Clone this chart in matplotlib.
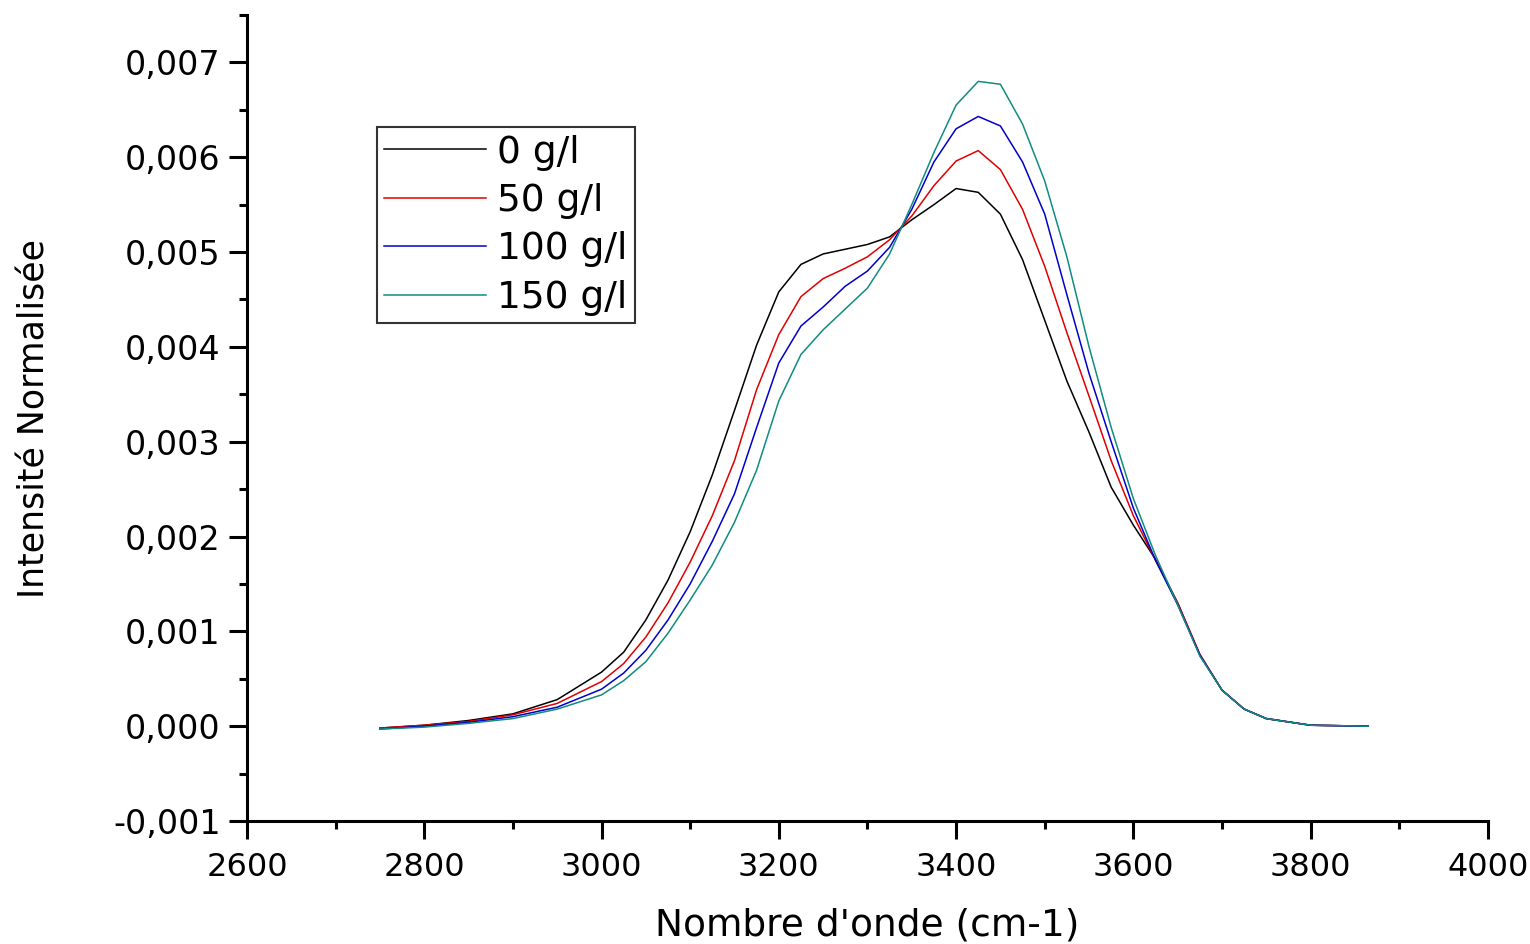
import numpy as np
import matplotlib
matplotlib.use('Agg')
import matplotlib.pyplot as plt
from matplotlib.ticker import MultipleLocator, FuncFormatter

plt.rcParams['font.family'] = ['DejaVu Sans']

# wavenumber (cm-1)
wavenumber = [2750, 2800, 2850, 2900, 2950, 3000, 3025, 3050, 3075, 3100,
              3125, 3150, 3175, 3200, 3225, 3250, 3275, 3300, 3325, 3350,
              3375, 3400, 3425, 3450, 3475, 3500, 3525, 3550, 3575, 3600,
              3625, 3650, 3675, 3700, 3725, 3750, 3800, 3865]

# normalised intensity, in units of 1e-3
int_0 = [-0.02, 0.01, 0.06, 0.13, 0.28, 0.57, 0.78, 1.12, 1.54, 2.05,
         2.65, 3.33, 4.02, 4.58, 4.87, 4.98, 5.03, 5.08, 5.16, 5.34,
         5.50, 5.67, 5.63, 5.40, 4.92, 4.28, 3.64, 3.10, 2.52, 2.12,
         1.76, 1.30, 0.75, 0.38, 0.18, 0.08, 0.01, 0.00]
int_50 = [-0.02, 0.01, 0.05, 0.12, 0.24, 0.47, 0.66, 0.94, 1.30, 1.73,
          2.22, 2.80, 3.55, 4.13, 4.53, 4.72, 4.83, 4.95, 5.13, 5.38,
          5.70, 5.96, 6.07, 5.87, 5.45, 4.85, 4.15, 3.48, 2.80, 2.22,
          1.75, 1.30, 0.76, 0.38, 0.18, 0.08, 0.01, 0.00]
int_100 = [-0.03, 0.00, 0.04, 0.10, 0.20, 0.39, 0.56, 0.80, 1.12, 1.50,
           1.95, 2.45, 3.15, 3.83, 4.22, 4.42, 4.64, 4.80, 5.05, 5.45,
           5.95, 6.30, 6.43, 6.33, 5.95, 5.40, 4.55, 3.72, 3.00, 2.30,
           1.75, 1.28, 0.75, 0.38, 0.18, 0.08, 0.01, 0.00]
int_150 = [-0.03, -0.01, 0.03, 0.08, 0.18, 0.33, 0.48, 0.68, 0.98, 1.33,
           1.70, 2.15, 2.70, 3.43, 3.92, 4.18, 4.40, 4.62, 4.98, 5.50,
           6.05, 6.55, 6.80, 6.77, 6.35, 5.75, 4.95, 4.00, 3.15, 2.40,
           1.80, 1.28, 0.74, 0.38, 0.18, 0.08, 0.01, 0.00]

labels = ['0 g/l', '50 g/l', '100 g/l', '150 g/l']
colors = ['black', '#e00000', '#0000cc', '#108c80']

fig = plt.figure(figsize=(15.3, 9.44), dpi=100)
ax = fig.add_axes([0.1614, 0.1303, 0.8111, 0.8538])

x = np.array(wavenumber)
for ys, lab, col in zip([int_0, int_50, int_100, int_150], labels, colors):
    ax.plot(x, np.array(ys) * 1e-3, color=col, lw=1.1, label=lab)

ax.set_xlim(2600, 4000)
ax.set_ylim(-0.001, 0.0075)
ax.xaxis.set_major_locator(MultipleLocator(200))
ax.xaxis.set_minor_locator(MultipleLocator(100))
ax.yaxis.set_major_locator(MultipleLocator(0.001))
ax.yaxis.set_minor_locator(MultipleLocator(0.0005))
ax.yaxis.set_major_formatter(FuncFormatter(lambda v, p: ('%.3f' % v).replace('.', ',')))

for s in ['top', 'right']:
    ax.spines[s].set_visible(False)
for s in ['left', 'bottom']:
    ax.spines[s].set_linewidth(2.2)

ax.tick_params(which='major', direction='out', length=13, width=2.2, labelsize=23)
ax.tick_params(which='minor', direction='out', length=6, width=2.2)
ax.tick_params(axis='x', which='major', pad=9)
ax.tick_params(axis='y', which='major', pad=6, labelsize=24)

ax.set_xlabel("Nombre d'onde (cm-1)", fontsize=27, labelpad=18)
ax.set_ylabel('Intensité Normalisée', fontsize=25, labelpad=44)

leg = ax.legend(loc='upper left', bbox_to_anchor=(0.1048, 0.861), fontsize=27,
                frameon=True, fancybox=False, borderaxespad=0, borderpad=0.2,
                handlelength=2.7, handletextpad=0.3, labelspacing=0.33)
leg.get_frame().set_edgecolor('black')
leg.get_frame().set_linewidth(1.5)

fig.savefig('out.png', dpi=100)
